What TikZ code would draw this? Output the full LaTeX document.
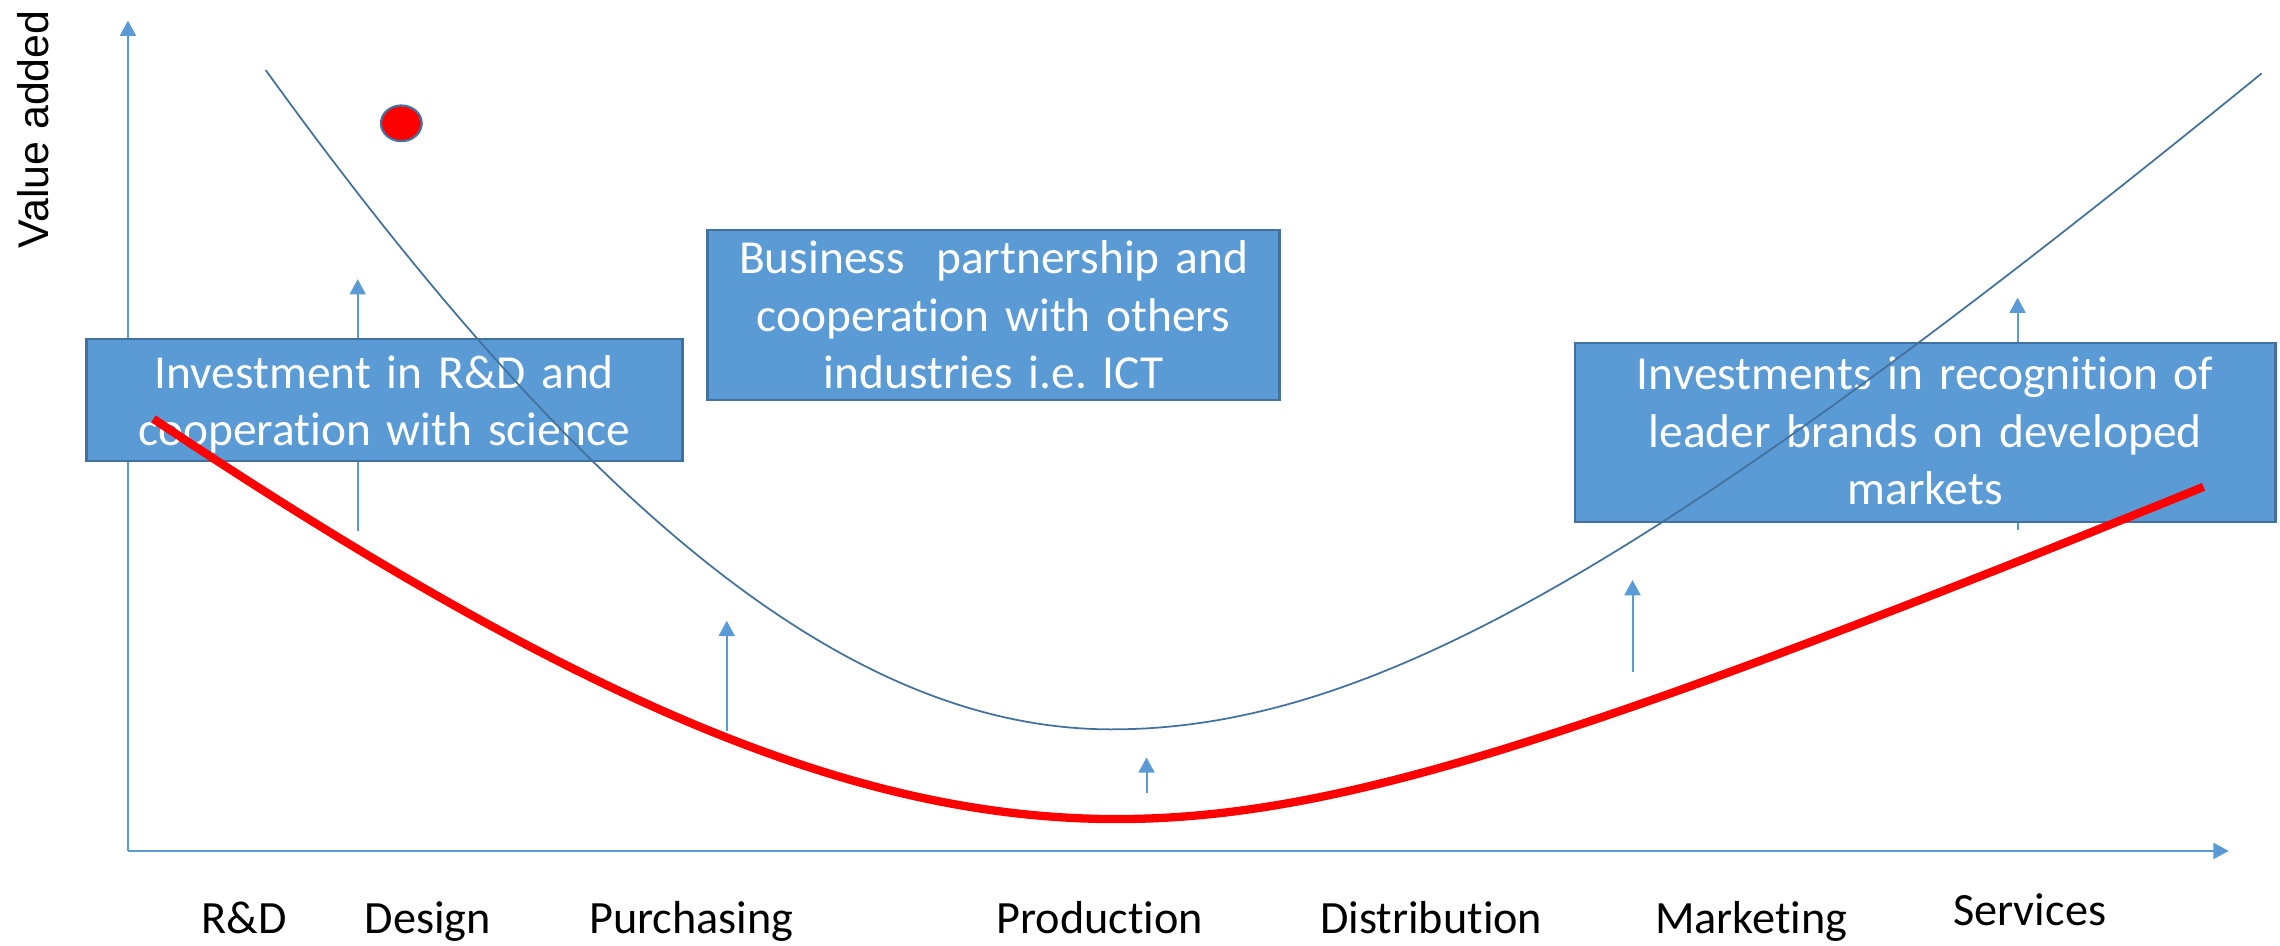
\documentclass[tikz,border=0pt]{standalone}
\usepackage{fontspec}
\setmainfont{Carlito}[Ligatures=NoCommon]
\newfontfamily\arialfont{Liberation Sans}
\usetikzlibrary{arrows.meta,shapes.geometric}
\definecolor{axisblue}{HTML}{5B9BD5}
\definecolor{boxfill}{HTML}{5B9BD5}
\definecolor{darkblue}{HTML}{41719C}
\definecolor{curveblue}{HTML}{41719C}
\definecolor{curvered}{HTML}{FF0000}
\frenchspacing
\begin{document}
\begin{tikzpicture}[x=1pt,y=-1pt,
  axisline/.style={draw=axisblue, line width=1.4pt, -{Triangle[length=10.5pt,width=11pt]}},
  uparrow/.style={draw=axisblue, line width=1.4pt, -{Triangle[length=10.5pt,width=11pt]}},
  infobox/.style={draw=darkblue, fill=boxfill, line width=1.8pt, inner sep=0pt, outer sep=0pt, rectangle},
  boxtext/.style={text=white, anchor=base, inner sep=0pt, text width=560pt, align=center,
    font=\fontsize{32.6}{39.3}\selectfont},
  stage/.style={anchor=base west, inner sep=0pt, text=black, font=\fontsize{31.8}{38}\selectfont},
  bluecurve/.style={draw=curveblue, line width=1.2pt, line join=round},
  redcurve/.style={draw=curvered, line width=5.7pt, line join=round}]
\useasboundingbox (0,0) rectangle (1568,649.9);

% axes
\coordinate (O) at (88,585.2);
\coordinate (ytip) at (88,14.2);
\coordinate (xtip) at (1532.7,585.2);
\draw[axisline] (O) -- (ytip);
\draw[axisline] (O) -- (xtip);

% axis label
\node[rotate=90, anchor=base, inner sep=0pt, font=\arialfont\fontsize{29.5}{34}\selectfont] (vlabel) at (33.3,88.9) {Value added};

% small upward arrows
\coordinate (a1s) at (246,365);    \coordinate (a1e) at (246,192);
\coordinate (a2s) at (499.8,502.5); \coordinate (a2e) at (499.8,426.9);
\coordinate (a3s) at (1387.5,364.7); \coordinate (a3e) at (1387.5,204.7);
\coordinate (a4s) at (788.5,545.6); \coordinate (a4e) at (788.5,520.9);
\coordinate (a5s) at (1122.7,462.2); \coordinate (a5e) at (1122.7,398.9);
\draw[uparrow] (a1s) -- (a1e);
\draw[uparrow] (a2s) -- (a2e);
\draw[uparrow] (a3s) -- (a3e);
\draw[uparrow] (a4s) -- (a4e);
\draw[uparrow] (a5s) -- (a5e);

% boxes
\node[infobox, minimum width=410pt, minimum height=83.8pt] (box1) at (264.3,275.1) {};
\node[infobox, minimum width=393.3pt, minimum height=116.9pt] (box2) at (683.35,216.65) {};
\node[infobox, minimum width=481.5pt, minimum height=123pt] (box3) at (1323.95,297.5) {};

\node[boxtext] (t1) at (264.3,267) {Investment in R\&D and\\cooperation with science};
\node[boxtext] (t2) at (683.35,188.4) {Business\ \ partnership and\\cooperation with others\\industries i.e. ICT};
\node[boxtext] (t3) at (1323.95,268.2) {Investments in recognition of\\leader brands on developed\\markets};

% stage labels
\node[stage] (rd) at (138.3,641.9) {R\&D};
\node[stage] (design) at (250.7,641.9) {Design};
\node[stage] (purch) at (405,641.9) {Purchasing};
\node[stage] (prod) at (685,641.9) {Production};
\node[stage] (dist) at (907.7,641.9) {Distribution};
\node[stage] (mark) at (1138,641.9) {Marketing};
\node[stage] (serv) at (1343,636.8) {Services};

% curves
\draw[bluecurve]
  plot[domain=182.7:764.6, samples=80] (\x, {501.6-220*(sqrt(51.609+((\x-764.6)/100)^2)-7.184)})
  -- plot[domain=764.6:1555.4, samples=100] (\x, {501.6-90*(sqrt(13.920+((\x-764.6)/100)^2)-3.731)});
\draw[redcurve]
  plot[domain=105.5:768, samples=80] (\x, {563.3-84*(sqrt(25.6036+((\x-768)/100)^2)-5.06)})
  -- plot[domain=768:1515.4, samples=90] (\x, {563.3-43*(sqrt(6.76+((\x-768)/100)^2)-2.6)});

% red dot
\node[ellipse, draw=darkblue, fill=curvered, line width=1.5pt, inner sep=0pt,
  minimum width=28pt, minimum height=24.5pt] (dot) at (276,84.8) {};
\end{tikzpicture}
\end{document}
